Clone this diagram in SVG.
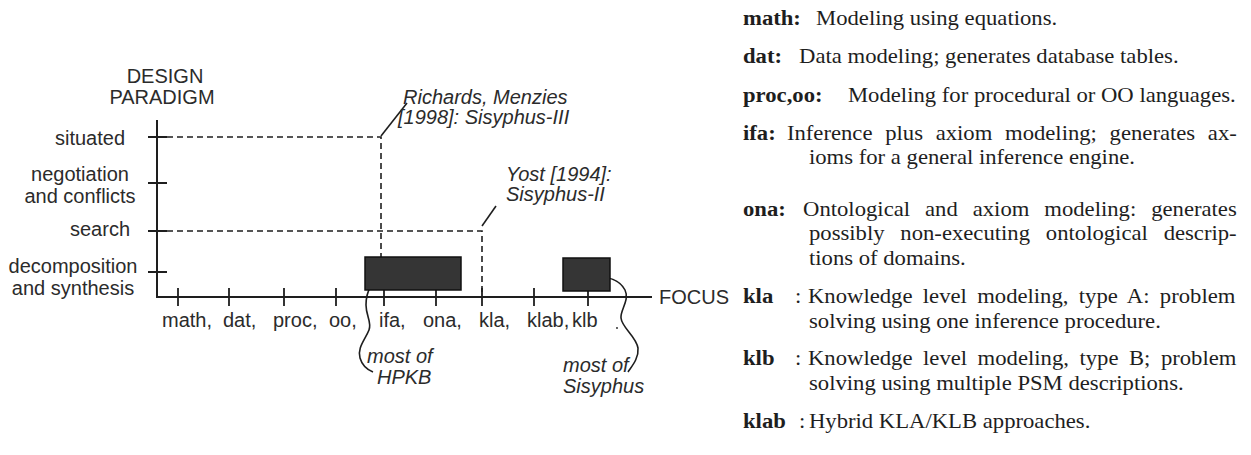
<svg xmlns="http://www.w3.org/2000/svg" width="1251" height="455" viewBox="0 0 1251 455">
  <style>
    .lbl { font-family: "Liberation Sans", Arial, sans-serif; font-size: 20px; fill: #2b2b2b; }
    .it { font-style: italic; }
    .mid { text-anchor: middle; }
    .axis { stroke: #1e1e1e; stroke-width: 2; fill: none; }
    .tick { stroke: #1e1e1e; stroke-width: 1.8; }
    .dash { stroke: #1e1e1e; stroke-width: 1.6; stroke-dasharray: 6 4; fill: none; }
    .lead { stroke: #1e1e1e; stroke-width: 1.6; fill: none; }
    .block { fill: #353535; stroke: #111; stroke-width: 1.5; }
    .def { font-family: "Liberation Serif", "Times New Roman", serif; font-size: 21px; fill: #1e1e1e; }
    .def .k { font-weight: bold; }
  </style>

  <rect width="1251" height="455" fill="#fff"/>

  <!-- axes -->
  <g id="axes">
    <path class="axis" d="M157,120 V297 H652"/>
    <!-- paradigm ticks -->
    <path class="tick" d="M148,137 H167 M148,183 H167 M148,231 H167 M148,272 H167"/>
    <!-- focus ticks -->
    <path class="tick" d="M178,288 V306 M229,288 V306 M284,288 V306 M336,288 V306 M384,288 V306 M436,288 V306 M482,288 V306 M534,288 V306 M588,288 V306"/>
  </g>

  <!-- axis titles and scale labels -->
  <g id="axis-labels" class="lbl">
    <text class="mid" x="165" y="83">DESIGN</text>
    <text class="mid" x="162" y="104">PARADIGM</text>
    <text class="mid" x="90" y="145">situated</text>
    <text class="mid" x="80" y="181">negotiation</text>
    <text class="mid" x="80" y="203">and conflicts</text>
    <text class="mid" x="100" y="236">search</text>
    <text class="mid" x="73" y="273">decomposition</text>
    <text class="mid" x="73" y="295">and synthesis</text>
    <text x="659" y="304">FOCUS</text>
    <text x="162" y="327">math,</text>
    <text x="223" y="327">dat,</text>
    <text x="273" y="327">proc,</text>
    <text x="329" y="327">oo,</text>
    <text x="379" y="327">ifa,</text>
    <text x="423" y="327">ona,</text>
    <text x="479" y="327">kla,</text>
    <text x="527" y="327">klab,</text>
    <text x="572" y="327">klb</text>
  </g>

  <!-- connectors: guide lines and leaders -->
  <g id="connectors">
    <path class="dash" d="M167,137 H381 V257"/>
    <path class="dash" d="M167,231 H482 V297"/>
    <path class="lead" d="M381,136 L407,103"/>
    <path class="lead" d="M482,226 L496,206"/>
    <path class="lead" d="M386,275 C372,278 366,292 366,305 C366,316 372,322 369,330 C365,340 357,348 360,358 C362,365 368,370 373,372"/>
    <path class="lead" d="M594,277 C608,276 620,280 625,290 C630,300 620,310 621,318 C622,328 636,336 638,348 C639,358 632,366 628,372"/>
    <circle cx="617" cy="328" r="0.9" fill="#1e1e1e"/>
  </g>

  <!-- regions -->
  <g id="hpkb">
    <rect class="block" x="365" y="257" width="96" height="33"/>
    <text class="lbl it" x="367" y="363">most of</text>
    <text class="lbl it" x="377" y="384">HPKB</text>
  </g>
  <g id="sisyphus">
    <rect class="block" x="563" y="258" width="47" height="33"/>
    <text class="lbl it" x="563" y="372">most of</text>
    <text class="lbl it" x="563" y="393">Sisyphus</text>
  </g>

  <!-- references -->
  <g id="richards-menzies" class="lbl it">
    <text x="403" y="104">Richards, Menzies</text>
    <text x="398" y="124">[1998]: Sisyphus-III</text>
  </g>
  <g id="yost" class="lbl it">
    <text x="506" y="181">Yost [1994]:</text>
    <text x="506" y="201">Sisyphus-II</text>
  </g>

  <!-- glossary of focus codes -->
  <g id="glossary" class="def" transform="translate(743 0) scale(1.08 1)">
    <text y="25"><tspan class="k" x="0">math:</tspan><tspan x="67.6">Modeling using equations.</tspan></text>
    <text y="63"><tspan class="k" x="0">dat:</tspan><tspan x="51.9">Data modeling; generates database tables.</tspan></text>
    <text y="102"><tspan class="k" x="0">proc,oo:</tspan><tspan x="97.2">Modeling for procedural or OO languages.</tspan></text>
    <text y="140"><tspan class="k" x="0">ifa:</tspan><tspan x="40.7" word-spacing="6.5">Inference plus axiom modeling; generates ax-</tspan></text>
    <text x="61.1" y="164">ioms for a general inference engine.</text>
    <text y="216"><tspan class="k" x="0">ona:</tspan><tspan x="55.6" word-spacing="8.6">Ontological and axiom modeling: generates</tspan></text>
    <text x="61.1" y="240" word-spacing="9.4">possibly non-executing ontological descrip-</text>
    <text x="61.1" y="265">tions of domains.</text>
    <text y="303"><tspan class="k" x="0">kla</tspan><tspan x="48.1">:</tspan><tspan x="60.2" word-spacing="4.3">Knowledge level modeling, type A: problem</tspan></text>
    <text x="61.1" y="328">solving using one inference procedure.</text>
    <text y="365"><tspan class="k" x="0">klb</tspan><tspan x="48.1">:</tspan><tspan x="60.2" word-spacing="4.5">Knowledge level modeling, type B; problem</tspan></text>
    <text x="61.1" y="390">solving using multiple PSM descriptions.</text>
    <text y="428"><tspan class="k" x="0">klab</tspan><tspan x="51.9">:</tspan><tspan x="61.1">Hybrid KLA/KLB approaches.</tspan></text>
  </g>
</svg>
